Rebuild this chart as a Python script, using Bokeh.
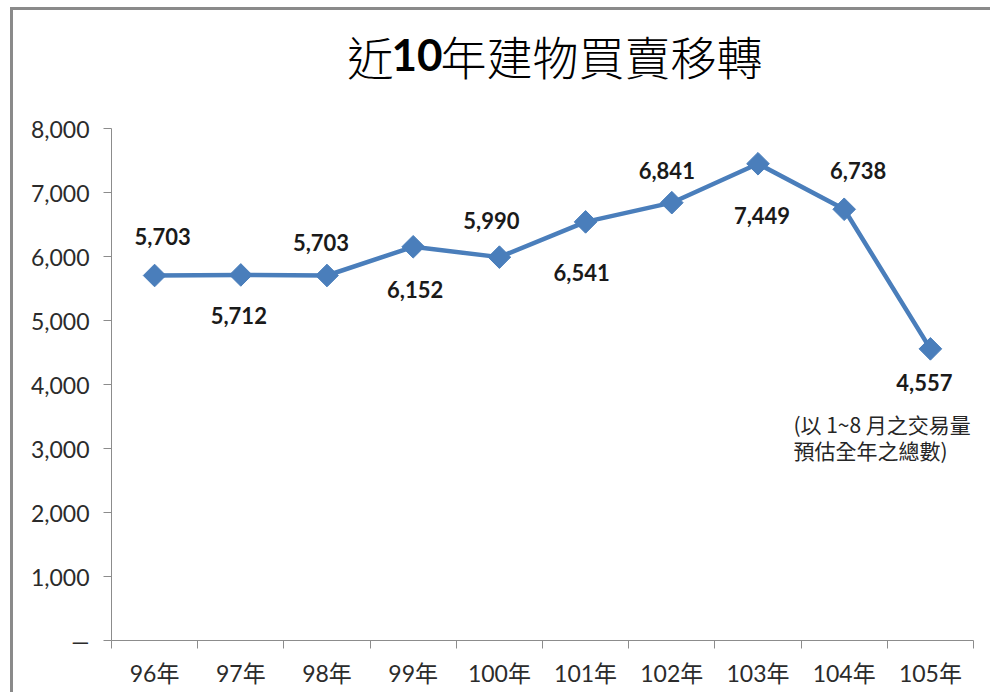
import numpy as np
from bokeh.plotting import figure
from bokeh.models import (ColumnDataSource, Range1d, LinearAxis, FixedTicker,
                          CustomJSTickFormatter, Label)
from bokeh.core.properties import value
from bokeh.embed import file_html
from bokeh.resources import INLINE

# ---- data ----
years = ["96年", "97年", "98年", "99年", "100年", "101年", "102年", "103年", "104年", "105年"]
transfers = [5703, 5712, 5703, 6152, 5990, 6541, 6841, 7449, 6738, 4557]
y_ticks = [0, 1000, 2000, 3000, 4000, 5000, 6000, 7000, 8000]
title_parts = ["近", "10", "年建物買賣移轉"]
note_lines = ["(以 1~8 月之交易量", "預估全年之總數)"]

# ---- label placement (pixels, layout only; positive dy = down) ----
label_dx = [8, -2, -6, 2, -8, -4, -5, 4, 14, -6]
label_dy = [-39, 41, -33, 43, -37, 51, -32, 52, -39, 34]

x = np.arange(len(years)) + 0.5
labels = [f"{v:,}" for v in transfers]
src = ColumnDataSource(dict(x=x, y=transfers, txt=labels, dx=label_dx, dy=label_dy))

FONT = "Lato, 'Noto Sans CJK TC'"
CJK = "'Noto Sans CJK TC'"
CJK_TITLE = "'Noto Sans CJK TC Light', 'Noto Sans CJK TC'"
GRID = "#8c8c8c"
BLUE = "#4a7ebb"

Y_TOP = 9625  # extra room above the 8,000 line for the title
p = figure(width=980, height=685, output_backend="svg", toolbar_location=None,
           x_range=Range1d(0, len(years)), y_range=Range1d(0, Y_TOP),
           x_axis_type=None, y_axis_type=None,
           min_border_left=98, min_border_right=20, min_border_top=14,
           min_border_bottom=55)
p.styles = {"border-top": "3px solid #8a8a8a", "border-left": "3px solid #8a8a8a",
            "margin-left": "10px", "margin-top": "7px"}
p.outline_line_color = None
p.background_fill_color = "white"
p.border_fill_color = "white"

# y axis
yax = LinearAxis(ticker=FixedTicker(ticks=y_ticks), bounds=(0, 8000))
yax.formatter = CustomJSTickFormatter(code="""
    return tick == 0 ? "\u2014" : tick.toLocaleString("en-US");
""")
yax.axis_line_color = GRID
yax.major_tick_line_color = GRID
yax.major_tick_out = 8
yax.major_tick_in = 0
yax.minor_tick_line_color = None
yax.major_label_standoff = 14
yax.major_label_text_font = FONT
yax.major_label_text_font_size = "23px"
yax.major_label_text_color = "#2b2b2b"
p.add_layout(yax, "left")

# x axis
xax = LinearAxis(ticker=FixedTicker(ticks=list(x), minor_ticks=list(range(len(years) + 1))))
xax.formatter = CustomJSTickFormatter(args=dict(labels=years), code="""
    return labels[Math.floor(tick)];
""")
xax.axis_line_color = GRID
xax.major_tick_line_color = None
xax.minor_tick_line_color = GRID
xax.minor_tick_out = 8
xax.minor_tick_in = 0
xax.major_label_standoff = 10
xax.major_label_text_font = FONT
xax.major_label_text_font_size = "23px"
xax.major_label_text_color = "#2b2b2b"
p.add_layout(xax, "below")

p.ygrid.ticker = FixedTicker(ticks=y_ticks)
p.ygrid.grid_line_color = GRID
p.xgrid.grid_line_color = None

# series
p.line("x", "y", source=src, line_color=BLUE, line_width=4.5)
p.scatter("x", "y", source=src, marker="square", size=16, angle=np.pi / 4,
          fill_color=BLUE, line_color=BLUE)
p.text("x", "y", text="txt", source=src, x_offset="dx", y_offset="dy",
       text_align="center", text_baseline="middle",
       text_font=value(FONT), text_font_size="22px", text_font_style="bold",
       text_color="#1a1a1a")

# title pieces
ty = 9150
p.add_layout(Label(x=3.27, y=ty, text=title_parts[0], text_align="right", text_baseline="middle",
                   text_font=CJK_TITLE, text_font_size="46px", text_color="black"))
p.add_layout(Label(x=3.544, y=ty, text=title_parts[1], text_align="center", text_baseline="middle",
                   text_font="Lato", text_font_size="44px", text_font_style="bold",
                   text_color="black"))
p.add_layout(Label(x=3.817, y=ty, text=title_parts[2], text_align="left", text_baseline="middle",
                   text_font=CJK_TITLE, text_font_size="46px", text_color="black"))

# note
for i, line in enumerate(note_lines):
    p.add_layout(Label(x=x[-1], y=transfers[-1], x_offset=-137, y_offset=-75 - 26 * i,
                       text=line, text_align="left", text_baseline="middle",
                       text_font=CJK, text_font_size="21px", text_color="#262626"))

open("out.html", "w").write(file_html(p, INLINE))
